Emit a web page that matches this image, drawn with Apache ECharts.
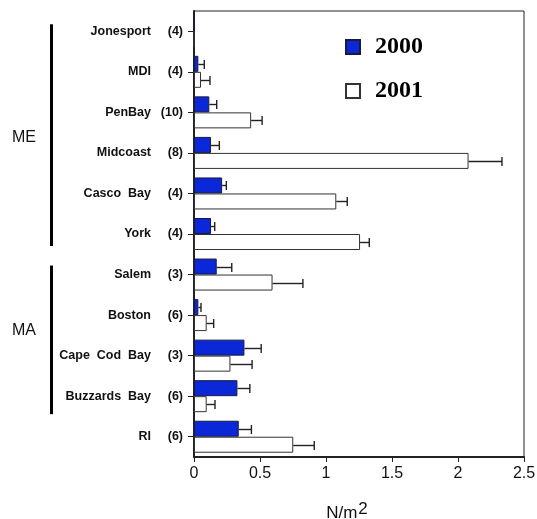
<!DOCTYPE html>
<html><head><meta charset="utf-8">
<script src="https://cdn.jsdelivr.net/npm/echarts@6/dist/echarts.min.js"></script>
<style>html,body{margin:0;padding:0;background:#fff}#c{width:537px;height:519px}</style>
</head><body><div id="c"></div>
<script>
const sites = ['Jonesport','MDI','PenBay','Midcoast','Casco  Bay','York','Salem','Boston','Cape  Cod  Bay','Buzzards  Bay','RI'];
const counts = ['(4)','(4)','(10)','(8)','(4)','(4)','(3)','(6)','(3)','(6)','(6)'];
const mean2000 = [0,0.033,0.116,0.129,0.213,0.129,0.172,0.033,0.382,0.329,0.339];
const err2000 = [0,0.045,0.056,0.063,0.032,0.028,0.114,0.020,0.127,0.094,0.096];
const mean2001 = [0,0.053,0.433,2.08,1.078,1.258,0.595,0.096,0.276,0.096,0.752];
const err2001 = [0,0.068,0.083,0.253,0.083,0.070,0.230,0.053,0.164,0.063,0.159];
const groups = [{name:'ME', from:'Jonesport', to:'York'}, {name:'MA', from:'Salem', to:'Buzzards  Bay'}];

const BLUE = '#0a28d8';
const chart = echarts.init(document.getElementById('c'), null, {renderer:'canvas'});

function errSeries(name, means, errs, dir) {
  return {
    type:'custom', name: name, z: 5, silent:true,
    data: means.map((m,i)=>[m, i, errs[i]]),
    encode:{x:0, y:1},
    renderItem(params, api){
      const m = api.value(0), idx = api.value(1), e = api.value(2);
      if (!(e > 0)) return null;
      const p0 = api.coord([m, idx]);
      const p1 = api.coord([m + e, idx]);
      const y = Math.round(p0[1] + dir * 8) + 0.5;
      const cap = 4.5;
      const st = {stroke:'#222', lineWidth:1.4};
      return {type:'group', children:[
        {type:'line', shape:{x1:p0[0], y1:y, x2:p1[0], y2:y}, style:st},
        {type:'line', shape:{x1:p1[0], y1:y-cap, x2:p1[0], y2:y+cap}, style:st}
      ]};
    }
  };
}

chart.setOption({
  animation:false,
  backgroundColor:'#fff',
  grid:{left:194, right:13, top:11, bottom:62, show:true, borderColor:'#222', borderWidth:1,
    containLabel:false, outerBoundsMode:'none'},
  legend:{
    data:['2000','2001'], orient:'vertical', left:340, top:30, itemWidth:14, itemHeight:14, itemGap:20,
    icon:'rect',
    textStyle:{fontFamily:'Liberation Serif', fontWeight:'bold', fontSize:24, color:'#000', padding:[0,0,0,10]}
  },
  xAxis:{
    type:'value', min:0, max:2.5, interval:0.5,
    axisLine:{show:true, lineStyle:{color:'#222', width:2}},
    axisTick:{show:true, length:5, lineStyle:{color:'#222'}},
    splitLine:{show:false},
    axisLabel:{fontFamily:'Liberation Sans', fontSize:16, color:'#111', margin:9},
    name:'N/m{s|2}', nameLocation:'middle', nameGap:44,
    nameTextStyle:{fontFamily:'Liberation Sans', fontSize:17, color:'#111', padding:[0,24,0,0],
      rich:{s:{fontFamily:'Liberation Sans', fontSize:17, color:'#111', padding:[0,0,7,1]}}}
  },
  yAxis:{
    type:'category', data:sites, inverse:true,
    axisLine:{show:true, lineStyle:{color:'#222', width:2}},
    axisTick:{show:true, alignWithLabel:true, length:6, lineStyle:{color:'#222'}},
    axisLabel:{
      margin:11,
      formatter:(v,i)=>'{n|'+v+'}{c|'+counts[i]+'}',
      rich:{
        n:{fontFamily:'Liberation Sans', fontWeight:'bold', fontSize:12.5, color:'#111', align:'right', width:120},
        c:{fontFamily:'Liberation Sans', fontWeight:'bold', fontSize:12.5, color:'#111', align:'right', width:32}
      }
    }
  },
  series:[
    {type:'bar', name:'2000', data:mean2000, barWidth:16, barGap:'0%',
      itemStyle:{color:BLUE, borderColor:'#1a1a3a', borderWidth:1}},
    {type:'bar', name:'2001', data:mean2001, barWidth:16, barGap:'0%',
      itemStyle:{color:'#fff', borderColor:'#333', borderWidth:1}},
    errSeries('e2000', mean2000, err2000, -1),
    errSeries('e2001', mean2001, err2001, 1)
  ]
});

// group brackets positioned from the category axis
const g = [];
groups.forEach((gr, k)=>{
  const y0 = chart.convertToPixel({yAxisIndex:0}, gr.from);
  const y1 = chart.convertToPixel({yAxisIndex:0}, gr.to);
  const top = k === 0 ? y0 - 7 : y0 - 9;
  const bot = k === 0 ? y1 + 12 : y1 + 18;
  g.push({type:'rect', shape:{x:50, y:top, width:3, height:bot-top}, style:{fill:'#000'}});
  g.push({type:'text', style:{text:gr.name, x:24, y:(k===0 ? (top+bot)/2+2 : (top+bot)/2-9), fontFamily:'Liberation Sans', fontSize:16, fill:'#111', textAlign:'center', textVerticalAlign:'middle'}});
});
chart.setOption({graphic:g});
</script></body></html>
